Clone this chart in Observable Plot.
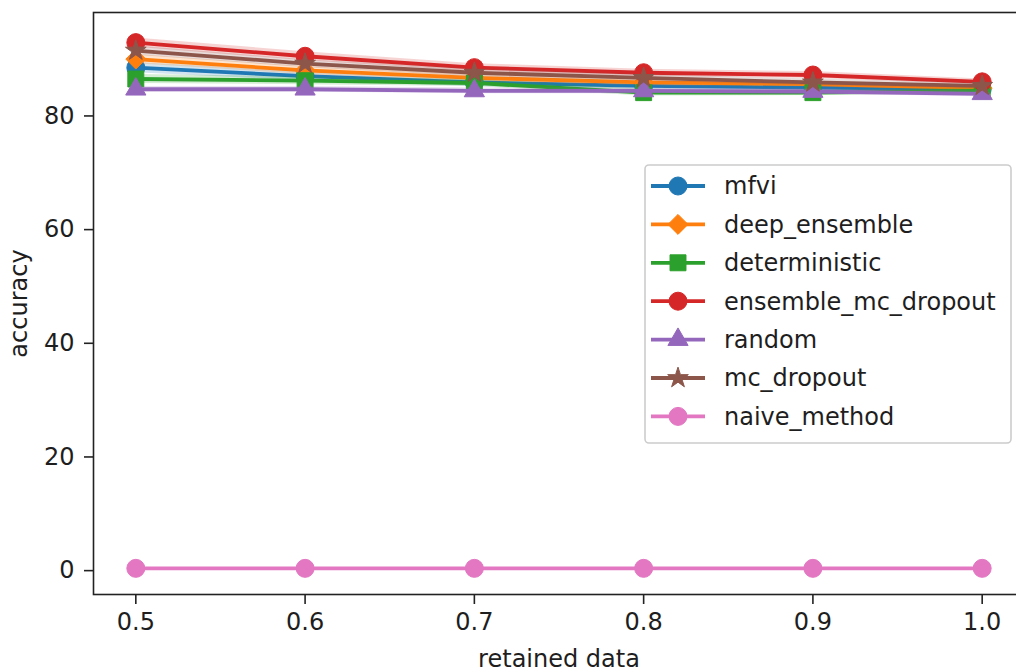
<!DOCTYPE html>
<html><head><meta charset="utf-8">
<script src="https://cdn.jsdelivr.net/npm/d3@7"></script>
<script src="https://cdn.jsdelivr.net/npm/@observablehq/plot@0.6"></script>
<style>
html,body{margin:0;padding:0;background:#fff;overflow:hidden;width:1016px;height:672px;}
#chart{width:1016px;height:672px;overflow:hidden;position:relative}
#chart svg{display:block;max-width:none !important;width:1032px !important;height:672px !important}
</style></head><body><div id="chart"></div>
<script>
// ---- data ----
const retained = [0.5, 0.6, 0.7, 0.8, 0.9, 1.0];
const seriesNames = ["mfvi", "deep_ensemble", "deterministic", "ensemble_mc_dropout", "random", "mc_dropout", "naive_method"];
const mfvi              = [88.5, 87.0, 85.9, 85.3, 85.0, 84.7];
const deepEnsemble      = [90.0, 88.0, 86.7, 85.9, 85.6, 84.9];
const deterministic     = [86.5, 86.2, 85.8, 84.1, 84.1, 84.4];
const ensembleMcDropout = [92.9, 90.5, 88.5, 87.6, 87.2, 86.0];
const randomBaseline    = [84.7, 84.7, 84.4, 84.4, 84.3, 83.9];
const mcDropout         = [91.5, 89.2, 87.6, 86.7, 85.9, 85.3];
const naiveMethod       = [0.4, 0.4, 0.4, 0.4, 0.4, 0.4];
// spread (shaded band half-width)
const mfviStd              = [0.9, 0.8, 0.7, 0.6, 0.6, 0.5];
const deepEnsembleStd      = [0.8, 0.7, 0.6, 0.6, 0.5, 0.5];
const deterministicStd     = [0.8, 0.7, 0.6, 0.6, 0.5, 0.5];
const ensembleMcDropoutStd = [0.8, 0.8, 0.7, 0.6, 0.6, 0.5];
const randomStd            = [0.5, 0.5, 0.5, 0.5, 0.5, 0.5];
const mcDropoutStd         = [0.8, 0.7, 0.7, 0.6, 0.6, 0.5];
const naiveStd             = [0.0, 0.0, 0.0, 0.0, 0.0, 0.0];
const yTicks = [0, 20, 40, 60, 80];

const values = [mfvi, deepEnsemble, deterministic, ensembleMcDropout, randomBaseline, mcDropout, naiveMethod];
const spreads = [mfviStd, deepEnsembleStd, deterministicStd, ensembleMcDropoutStd, randomStd, mcDropoutStd, naiveStd];
const colors = ["#1f77b4", "#ff7f0e", "#2ca02c", "#d62728", "#9467bd", "#8c564b", "#e377c2"];
const symbols = ["circle", "diamond2", "square", "circle", "triangle", "star", "circle"];
const radii = [9, 9, 9, 9, 7.5, 6.5, 9];

const marks = [];
seriesNames.forEach((name, i) => {
  const rows = retained.map((x, j) => ({x, y: values[i][j], lo: values[i][j] - spreads[i][j], hi: values[i][j] + spreads[i][j]}));
  marks.push(Plot.areaY(rows, {x: "x", y1: "lo", y2: "hi", fill: colors[i], fillOpacity: 0.2}));
  marks.push(Plot.line(rows, {x: "x", y: "y", stroke: colors[i], strokeWidth: 3.8}));
  marks.push(Plot.dot(rows, {x: "x", y: "y", symbol: () => symbols[i], r: radii[i], fill: colors[i], stroke: colors[i], strokeWidth: 1}));
});

const txt = "#1e1e1e";
const svg = Plot.plot({
  width: 1032, height: 672,
  marginLeft: 93, marginRight: 8, marginTop: 12, marginBottom: 78,
  x: {domain: [0.475, 1.025]},
  y: {domain: [-4.2, 98.2]},
  symbol: {type: "identity"},
  style: {fontFamily: "DejaVu Sans, sans-serif", fontSize: "24px", color: txt, background: "white", maxWidth: "none"},
  marks: [
    ...marks,
    Plot.frame({stroke: "#222", strokeWidth: 1.6}),
    Plot.axisX({ticks: retained, tickFormat: d => d.toFixed(1), tickSize: 10, tickPadding: 8, stroke: "#222", strokeWidth: 1.6,
      label: "retained data", labelAnchor: "center", labelOffset: 72, labelArrow: "none"}),
    Plot.axisY({ticks: yTicks, tickSize: 9, tickPadding: 10, stroke: "#222", strokeWidth: 1.6,
      label: "accuracy", labelAnchor: "center", labelOffset: 84, labelArrow: "none"})
  ]
});

// ---- legend (matplotlib style) ----
const lg = d3.select(svg).append("g").attr("font-family", "DejaVu Sans, sans-serif").attr("font-size", 24).attr("text-anchor", "start");
lg.append("rect").attr("x", 645).attr("y", 165).attr("width", 366).attr("height", 278).attr("rx", 4)
  .attr("fill", "white").attr("fill-opacity", 0.85).attr("stroke", "#cccccc").attr("stroke-width", 1.6);
const d3sym = {circle: d3.symbolCircle, diamond2: d3.symbolDiamond2, square: d3.symbolSquare, triangle: d3.symbolTriangle, star: d3.symbolStar};
seriesNames.forEach((name, i) => {
  const y = 186 + i * 38.4;
  const g = lg.append("g");
  g.append("line").attr("x1", 651).attr("x2", 705).attr("y1", y).attr("y2", y).attr("stroke", colors[i]).attr("stroke-width", 3.8);
  g.append("path").attr("transform", `translate(678,${y})`)
    .attr("d", d3.symbol().type(d3sym[symbols[i]]).size(Math.PI * radii[i] * radii[i])())
    .attr("fill", colors[i]).attr("stroke", colors[i]).attr("stroke-width", 1);
  g.append("text").attr("x", 724).attr("y", y).attr("dy", "0.35em").attr("fill", txt).attr("text-anchor", "start").text(name);
});

document.getElementById("chart").appendChild(svg);
</script></body></html>
